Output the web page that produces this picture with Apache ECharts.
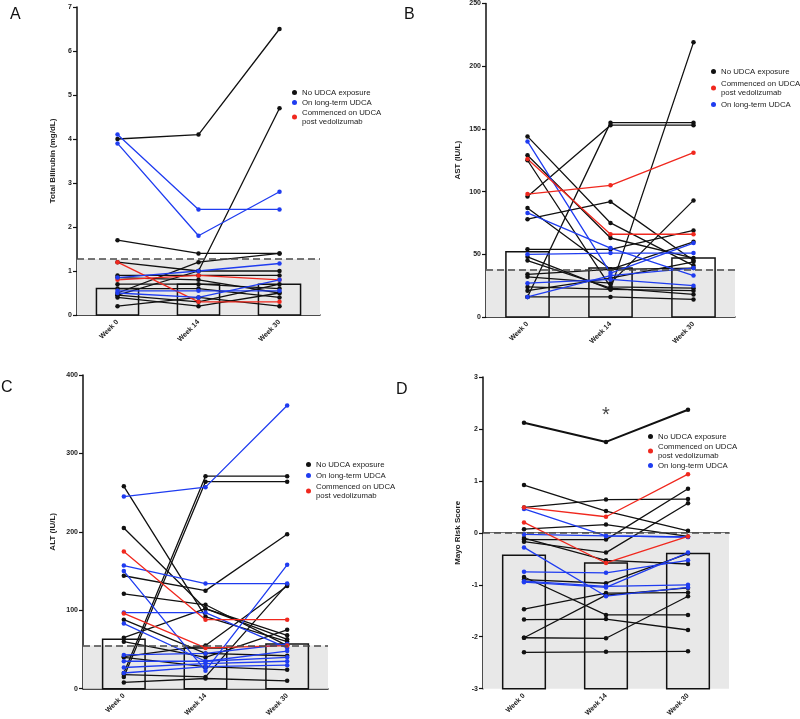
<!DOCTYPE html>
<html><head><meta charset="utf-8">
<script src="https://cdn.jsdelivr.net/npm/echarts@6/dist/echarts.min.js"></script>
<style>html,body{margin:0;padding:0;background:#fff}#c{width:800px;height:719px}</style>
</head><body><div id="c"></div>
<script>
const categories = ['Week 0', 'Week 14', 'Week 30'];
const NO = 'No UDCA exposure';
const LT = 'On long-term UDCA';
const CM = 'Commenced on UDCA\npost vedolizumab';

// Panel A: Total bilirubin (mg/dL)
const biliTicks = [0, 7, 1];
const biliNoUDCA = [[4.0,4.1,6.5],[0.45,1.0,4.7],[1.7,1.4,1.4],[0.5,1.2,1.4],[1.2,1.0,1.0],[0.9,0.9,0.9],[0.85,0.8,0.5],[0.7,0.7,0.6],[0.6,0.6,0.4],[0.45,0.3,0.7],[0.4,0.2,0.5],[0.2,0.4,0.2]];
const biliLongTerm = [[4.1,2.4,2.4],[3.9,1.8,2.8],[0.85,1.0,1.17],[0.55,0.55,0.55],[0.5,0.4,0.8]];
const biliCommenced = [[1.2,0.3,0.3],[0.8,0.9,0.8]];
const biliMean = [0.6, 0.7, 0.7];
const biliULN = 1.27;

// Panel B: AST (IU/L)
const astTicks = [0, 250, 50];
const astNoUDCA = [[16,155,155],[96,153,153],[24,22,219],[144,75,41],[129,63,47],[125,24,23],[78,92,45],[87,38,39],[54,54,69],[48,22,21],[45,23,18],[34,38,60],[32,27,93],[21,31,44],[16,16,14]];
const astLongTerm = [[140,35,59],[50,51,51],[83,55,33],[27,30,25],[16,33,39]];
const astCommenced = [[98,105,131],[126,66,66]];
const astMean = [52, 39, 47];
const astULN = 38;

// Panel C: ALT (IU/L)
const altTicks = [0, 400, 100];
const altNoUDCA = [[20,271,271],[15,264,264],[258,92,60],[205,102,68],[144,125,197],[121,107,55],[88,45,42],[65,102,63],[60,40,75],[41,55,131],[18,15,133],[8,13,10],[40,28,24]];
const altLongTerm = [[245,257,361],[157,134,134],[150,23,158],[97,97,52],[83,35,48],[43,45,57],[35,35,40],[27,32,35],[20,28,30]];
const altCommenced = [[175,88,88],[96,52,55]];
const altMean = [63, 52, 57];
const altULN = 55;

// Panel D: Mayo risk score
const mayoTicks = [-3, 3, 1];
const mayoNoUDCA = [[2.12,1.75,2.37],[0.92,0.42,0.04],[0.49,0.64,0.65],[0.07,0.16,-0.07],[-0.13,-0.13,0.85],[-0.17,-0.38,0.57],[-0.1,-0.53,-0.6],[-0.85,-1.58,-1.58],[-0.9,-0.97,-0.4],[-1.47,-1.16,-1.15],[-1.67,-1.66,-1.87],[-2.02,-1.2,-1.06],[-2.02,-2.03,-1.22],[-2.3,-2.29,-2.28]];
const mayoCommenced = [[0.49,0.31,1.13],[0.2,-0.58,-0.07]];
const mayoLongTerm = [[0.46,-0.06,-0.08],[-0.03,-0.06,-0.08],[-0.28,-1.22,-1.05],[-0.75,-0.77,-0.53],[-0.93,-1.03,-1.0],[-0.95,-1.05,-0.38]];
const mayoMean = [-0.43, -0.58, -0.4];
const mayoRef = 0;
const mayoStar = [[1, 2.25]];

const BLACK = '#111111', BLUE = '#1f3cf0', RED = '#f0281e';
const FONT = 'Liberation Sans, Arial, sans-serif';

const grids = [
  {left: 77, top: 7, width: 243, height: 308},
  {left: 486, top: 2, width: 249, height: 315},
  {left: 83, top: 375, width: 245, height: 314},
  {left: 483, top: 377, width: 246, height: 314}
];
const yNames = ['Total Bilirubin (mg/dL)', 'AST (IU/L)', 'ALT (IU/L)', 'Mayo Risk Score'];
const yGaps = [20, 24, 26, 21];
const ticks = [biliTicks, astTicks, altTicks, mayoTicks];

const xAxes = grids.map((g, i) => ({
  type: 'category', gridIndex: i, data: categories, boundaryGap: true,
  axisLine: {lineStyle: {color: BLACK, width: 1.5}},
  axisTick: {alignWithLabel: true, length: 4, lineStyle: {color: BLACK, width: 1.2}},
  axisLabel: {rotate: 45, fontSize: 7, fontWeight: 'bold', color: '#222', fontFamily: FONT, margin: 6}
}));
const yAxes = grids.map((g, i) => ({
  type: 'value', gridIndex: i, min: ticks[i][0], max: ticks[i][1], interval: ticks[i][2],
  name: yNames[i], nameLocation: 'middle', nameRotate: 90, nameGap: yGaps[i],
  nameTextStyle: {fontSize: 8, fontWeight: 'bold', color: '#222', fontFamily: FONT},
  axisLine: {show: true, lineStyle: {color: BLACK, width: 1.5}},
  axisTick: {show: true, length: 4, lineStyle: {color: BLACK, width: 1.2}},
  axisLabel: {fontSize: 7, fontWeight: 'bold', color: '#222', fontFamily: FONT, margin: 5},
  splitLine: {show: false}
}));

const series = [];
function addLines(gi, name, color, rows, widths) {
  rows.forEach((r, k) => {
    series.push({
      type: 'line', name: name, xAxisIndex: gi, yAxisIndex: gi, data: r,
      symbol: 'circle', symbolSize: 4.5, showSymbol: true,
      lineStyle: {color: color, width: (widths && widths[k]) || 1.3},
      itemStyle: {color: color}, z: 4, animation: false, silent: true
    });
  });
}
function addPanelBase(gi, means, base, ref, shadeFrom) {
  series.push({
    type: 'custom', xAxisIndex: gi, yAxisIndex: gi, z: 3, animation: false, silent: true,
    data: means.map((v, i) => [i, v]), encode: {x: 0, y: 1},
    renderItem: function (params, api) {
      const c = api.value(0);
      const top = api.coord([c, api.value(1)]);
      const bot = api.coord([c, base]);
      const w = api.size([1, 0])[0] * 0.52;
      return {type: 'rect', shape: {x: top[0] - w / 2, y: top[1], width: w, height: bot[1] - top[1]},
        style: {fill: 'rgba(0,0,0,0)', stroke: BLACK, lineWidth: 1.5}};
    },
    markArea: {silent: true, itemStyle: {color: '#e8e8e8'}, data: [[{yAxis: shadeFrom}, {yAxis: ref}]]},
    markLine: {silent: true, symbol: 'none', label: {show: false},
      lineStyle: {color: '#4a4a4a', type: [7, 4], width: 1.6}, data: [{yAxis: ref}]}
  });
}

addPanelBase(0, biliMean, 0, biliULN, 0);
addLines(0, NO, BLACK, biliNoUDCA);
addLines(0, CM, RED, biliCommenced);
addLines(0, LT, BLUE, biliLongTerm);

addPanelBase(1, astMean, 0, astULN, 0);
addLines(1, NO, BLACK, astNoUDCA);
addLines(1, LT, BLUE, astLongTerm);
addLines(1, CM, RED, astCommenced);

addPanelBase(2, altMean, 0, altULN, 0);
addLines(2, NO, BLACK, altNoUDCA);
addLines(2, LT, BLUE, altLongTerm);
addLines(2, CM, RED, altCommenced);

addPanelBase(3, mayoMean, -3, mayoRef, -3);
addLines(3, NO, BLACK, mayoNoUDCA, [2]);
addLines(3, LT, BLUE, mayoLongTerm);
addLines(3, CM, RED, mayoCommenced);
series.push({
  type: 'scatter', xAxisIndex: 3, yAxisIndex: 3, data: mayoStar, symbolSize: 0, silent: true,
  label: {show: true, formatter: '*', position: 'inside', fontSize: 20, color: '#111', fontFamily: FONT}
});

const legendBase = {
  orient: 'vertical', itemWidth: 5, itemHeight: 5, icon: 'circle', selectedMode: false,
  textStyle: {fontSize: 7.8, color: '#222', fontFamily: FONT, lineHeight: 9}
};
const legends = [
  Object.assign({}, legendBase, {left: 287, top: 83, itemGap: 1, data: [NO, LT, CM]}),
  Object.assign({}, legendBase, {left: 706, top: 62, itemGap: 3, data: [NO, CM, LT]}),
  Object.assign({}, legendBase, {left: 301, top: 455, itemGap: 2, data: [NO, LT, CM]}),
  Object.assign({}, legendBase, {left: 643, top: 427, itemGap: 1, data: [NO, CM, LT]})
];

const letters = [['A', 10, 7], ['B', 404, 7], ['C', 1, 380], ['D', 396, 382]];
const graphic = letters.map(l => ({type: 'text', left: l[1], top: l[2],
  style: {text: l[0], fontSize: 16, fill: '#111', fontFamily: FONT}}));

const chart = echarts.init(document.getElementById('c'), null, {renderer: 'canvas'});
chart.setOption({
  animation: false,
  grid: grids,
  xAxis: xAxes,
  yAxis: yAxes,
  legend: legends,
  graphic: graphic,
  series: series
});
</script>
</body></html>
